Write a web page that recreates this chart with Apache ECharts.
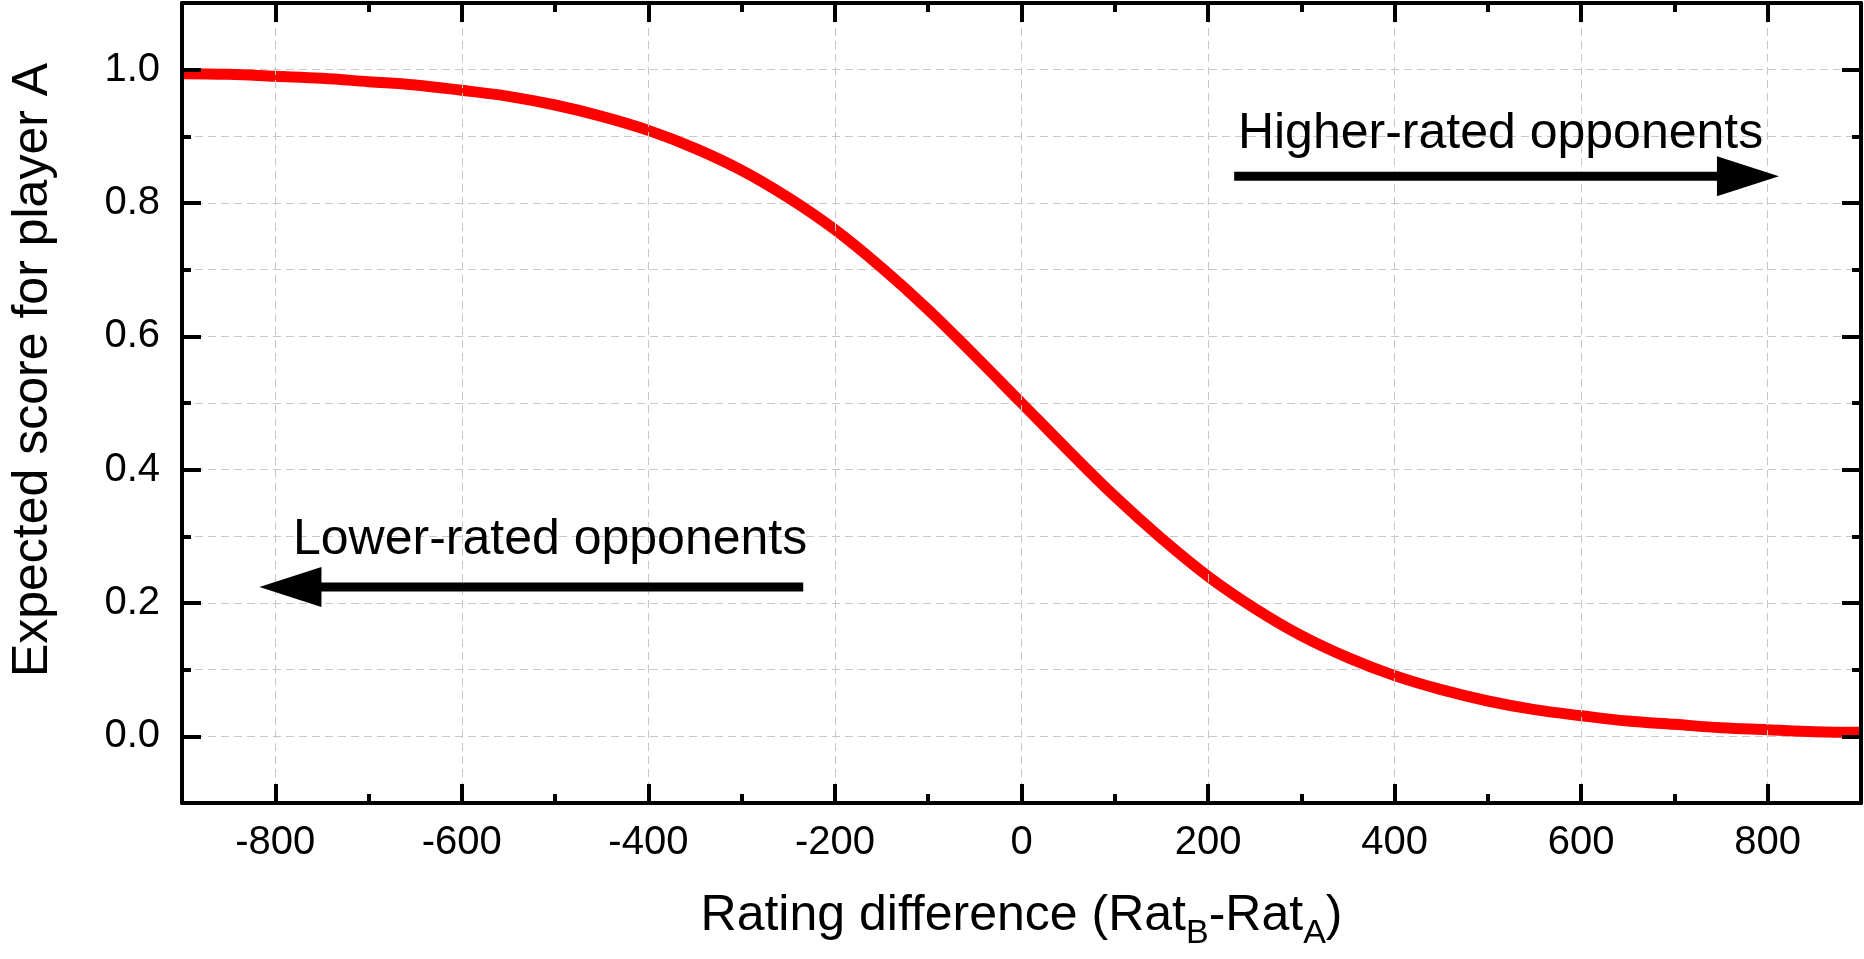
<!DOCTYPE html>
<html>
<head>
<meta charset="utf-8">
<script src="https://cdn.jsdelivr.net/npm/echarts@6/dist/echarts.min.js"></script>
<style>
html,body{margin:0;padding:0;background:#fff;}
#c{width:1864px;height:959px;}
</style>
</head>
<body>
<div id="c"></div>
<script>
// ---- data ----
const ratingDiff = [-900,-850,-800,-750,-700,-650,-600,-550,-500,-450,-400,-350,-300,-250,-200,-150,-100,-50,0,50,100,150,200,250,300,350,400,450,500,550,600,650,700,750,800,850,900];
const expectedScore = [0.994,0.993,0.990,0.987,0.982,0.977,0.969,0.960,0.947,0.930,0.909,0.882,0.849,0.808,0.760,0.703,0.640,0.571,0.500,0.429,0.360,0.297,0.240,0.192,0.151,0.118,0.091,0.070,0.053,0.040,0.031,0.023,0.018,0.013,0.010,0.007,0.006];
const xMajorTicks = [-800,-600,-400,-200,0,200,400,600,800];
const xMinorTicks = [-700,-500,-300,-100,100,300,500,700];
const yMajorTicks = [0,0.2,0.4,0.6,0.8,1.0];
const yMinorTicks = [0.1,0.3,0.5,0.7,0.9];
const xTitleMain = 'Rating difference (Rat';
const yTitle = 'Expected score for player A';
const higherLabel = 'Higher-rated opponents';
const lowerLabel = 'Lower-rated opponents';
// annotation anchors in data units
const higherTextAt = [232, 0.877];
const higherArrow = [[228, 0.840], [812, 0.840]];
const lowerTextAt = [-781, 0.268];
const lowerArrow = [[-234, 0.224], [-817, 0.224]];

const FONT = '"Liberation Sans", Arial, sans-serif';
const chart = echarts.init(document.getElementById('c'));

const lineBlack = {show: true, onZero: false, lineStyle: {color: '#000', width: 4}};
const noLine = {show: false, onZero: false};
function tick(values, len) {
  return {show: true, inside: true, length: len, customValues: values, lineStyle: {color: '#000', width: 4}};
}
function xAx(pos, line, ticks, len, labels) {
  return {
    type: 'value', min: -900, max: 900, interval: 100, position: pos, z: 5,
    axisLine: line ? lineBlack : noLine,
    axisTick: tick(ticks, len),
    axisLabel: labels ? {show: true, customValues: ticks, fontSize: 40, fontFamily: FONT, color: '#000', margin: 20} : {show: false},
    splitLine: {show: false}
  };
}
function yAx(pos, line, ticks, len, labels) {
  return {
    type: 'value', min: -0.1, max: 1.1, interval: 0.1, position: pos, z: 5,
    axisLine: line ? lineBlack : noLine,
    axisTick: tick(ticks, len),
    axisLabel: labels ? {show: true, customValues: ticks, fontSize: 40, fontFamily: FONT, color: '#000', margin: 22,
      formatter: v => Number(v).toFixed(1)} : {show: false},
    splitLine: {show: false}
  };
}

const option = {
  animation: false,
  backgroundColor: '#fff',
  textStyle: {fontFamily: FONT},
  grid: {left: 182, right: 3, top: 3, bottom: 156, containLabel: false},
  xAxis: [
    xAx('bottom', true, xMajorTicks, 19, true),
    xAx('bottom', false, xMinorTicks, 9, false),
    xAx('top', true, xMajorTicks, 19, false),
    xAx('top', false, xMinorTicks, 9, false)
  ],
  yAxis: [
    yAx('left', true, yMajorTicks, 19, true),
    yAx('left', false, yMinorTicks, 9, false),
    yAx('right', true, yMajorTicks, 19, false),
    yAx('right', false, yMinorTicks, 9, false),
    {
      type: 'value', min: -0.1, max: 1.1, interval: 0.1, position: 'left', z: 0,
      axisLine: noLine, axisTick: {show: false}, axisLabel: {show: false},
      splitLine: {show: true, lineStyle: {color: '#c8c8c8', width: 1, type: [8, 5]}}
    }
  ],
  series: [
    {
      type: 'line', xAxisIndex: 0, yAxisIndex: 0, data: [], z: 1, silent: true,
      markLine: {
        silent: true, symbol: 'none', animation: false, label: {show: false},
        lineStyle: {color: '#c8c8c8', width: 1, type: [8, 5]},
        emphasis: {disabled: true},
        data: xMajorTicks.map(v => ({xAxis: v}))
      }
    },
    {
      type: 'line', xAxisIndex: 0, yAxisIndex: 0, z: 3,
      data: ratingDiff.map((x, i) => [x, expectedScore[i]]),
      showSymbol: false, smooth: 0.4,
      lineStyle: {color: '#ff0000', width: 11, join: 'round'},
      emphasis: {disabled: true}
    }
  ]
};
chart.setOption(option);

const toPx = p => chart.convertToPixel({xAxisIndex: 0, yAxisIndex: 0}, p);
const FS = 50, MID = 0.3465 * FS, HEAD_LEN = 62, HEAD_HW = 20;
function arrow(seg) {
  const a = toPx(seg[0]), b = toPx(seg[1]);
  const dx = b[0] - a[0], dy = b[1] - a[1], L = Math.hypot(dx, dy);
  const ux = dx / L, uy = dy / L, nx = -uy, ny = ux;
  const base = [b[0] - ux * HEAD_LEN, b[1] - uy * HEAD_LEN];
  return [
    {type: 'line', z: 10, shape: {x1: a[0], y1: a[1], x2: base[0] + ux * 2, y2: base[1] + uy * 2}, style: {stroke: '#000', lineWidth: 9}},
    {type: 'polygon', z: 10, shape: {points: [[b[0], b[1]], [base[0] + nx * HEAD_HW, base[1] + ny * HEAD_HW], [base[0] - nx * HEAD_HW, base[1] - ny * HEAD_HW]]}, style: {fill: '#000'}}
  ];
}
function label(text, at) {
  const p = toPx(at);
  return {type: 'text', z: 10, x: p[0], y: p[1] - MID,
    style: {text: text, fontSize: FS, fontFamily: FONT, fill: '#000', align: 'left', verticalAlign: 'middle'}};
}
const cx = toPx([0, 0])[0];
const graphics = [].concat(
  arrow(higherArrow), arrow(lowerArrow),
  [label(higherLabel, higherTextAt), label(lowerLabel, lowerTextAt)],
  [{
    type: 'text', z: 10, x: 33, y: 370, rotation: Math.PI / 2,
    style: {text: yTitle, fontSize: FS, fontFamily: FONT, fill: '#000', align: 'center', verticalAlign: 'middle'}
  }, {
    type: 'text', z: 10, x: cx, y: 881,
    style: {
      text: xTitleMain + '{s|B}-Rat{s|A})',
      fontSize: FS, fontFamily: FONT, fill: '#000', lineHeight: 70,
      align: 'center', verticalAlign: 'top',
      rich: {s: {fontSize: 34, fontFamily: FONT, fill: '#000', lineHeight: 31, verticalAlign: 'bottom'}}
    }
  }]
);
chart.setOption({graphic: graphics});
</script>
</body>
</html>
